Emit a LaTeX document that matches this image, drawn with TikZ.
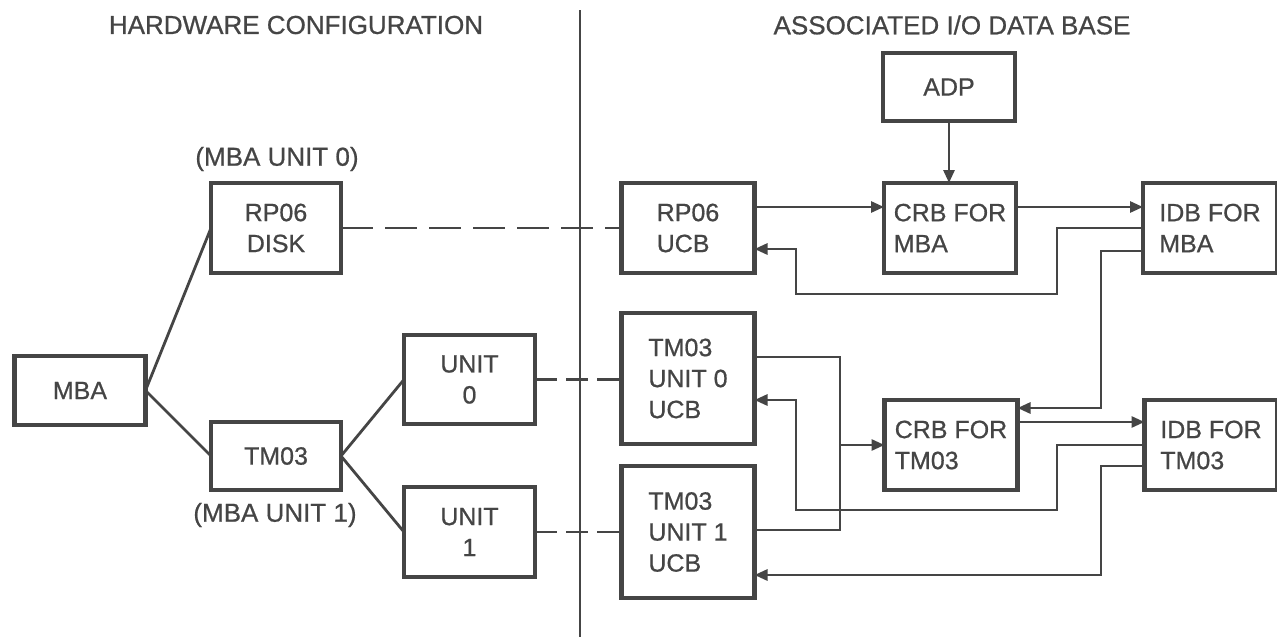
\documentclass[tikz,border=0pt]{standalone}
\usepackage{fontspec}
\setmainfont{Liberation Sans}
\newfontfamily\medfont{Liberation Sans}[FakeBold=0.7]
\usetikzlibrary{arrows.meta,calc}
\definecolor{ink}{gray}{0.27}
\newcommand\boxfnt{\medfont\fontsize{25}{31}\selectfont}
\newcommand\lblfnt{\medfont\fontsize{26}{31}\selectfont}
\begin{document}
\begin{tikzpicture}[x=1pt,y=-1pt,
  hbox/.style={draw=ink, line width=4.2pt, rectangle, inner sep=0pt, outer sep=0pt, text=ink, font=\boxfnt, align=center},
  lbox/.style={hbox, align=left},
  lbl/.style={text=ink, font=\lblfnt, inner sep=0pt},
  conn/.style={draw=ink, line width=2.8pt},
  arr/.style={conn, -{Triangle[length=13pt,width=11pt]}},
  dsh/.style={conn, dash pattern=on 32pt off 12pt},
  dshs/.style={conn, dash pattern=on 22pt off 9pt}]
\useasboundingbox (0,0) rectangle (1277,637);
\fill[white] (0,0) rectangle (1277,637);

% titles and labels
\node[lbl] (t1) at (296,25) {HARDWARE CONFIGURATION};
\node[lbl] (t2) at (952,25) {ASSOCIATED I/O DATA BASE};
\node[lbl] (l0) at (277,159) {(MBA UNIT 0)};
\node[lbl] (l1) at (275,515) {(MBA UNIT 1)};

% separator
\coordinate (stop) at (580,10);
\coordinate (sbot) at (580,637);
\draw[ink, line width=2.2pt] (stop) -- (sbot);

% hardware side
\node[hbox, minimum width=131pt, minimum height=69pt] (mba) at (80,390.5) {MBA};
\node[hbox, minimum width=130pt, minimum height=90pt] (disk) at (276,228) {RP06\\DISK};
\node[hbox, minimum width=130pt, minimum height=68pt] (tm) at (276,456) {TM03};
\node[hbox, minimum width=131pt, minimum height=89pt] (u0) at (469.5,379.5) {UNIT\\0};
\node[hbox, minimum width=131pt, minimum height=90pt] (u1) at (469.5,532) {UNIT\\1};

% data base side
\node[hbox, minimum width=132pt, minimum height=68pt] (adp) at (949,87) {ADP};
\node[lbox, minimum width=133pt, minimum height=90pt] (rucb) at (688,228) {RP06\\UCB};
\node[lbox, minimum width=132pt, minimum height=90pt] (crbm) at (950,228) {CRB FOR\\MBA};
\node[lbox, minimum width=134pt, minimum height=90pt] (idbm) at (1210,228) {IDB FOR\\MBA};
\node[lbox, minimum width=133pt, minimum height=131pt] (u0ucb) at (688,378.5) {TM03\\UNIT 0\\UCB};
\node[lbox, minimum width=133pt, minimum height=132pt] (u1ucb) at (688,532) {TM03\\UNIT 1\\UCB};
\node[lbox, minimum width=133pt, minimum height=90pt] (crbt) at (951,445) {CRB FOR\\TM03};
\node[lbox, minimum width=133pt, minimum height=90pt] (idbt) at (1211,445) {IDB FOR\\TM03};

% hardware tree
\draw[conn] (mba.east) -- (disk.west);
\draw[conn] (mba.east) -- (tm.west);
\draw[conn] (tm.east) -- (u0.west);
\draw[conn] (tm.east) -- (u1.west);

% dashed correspondences
\draw[dsh] (disk.east) -- (rucb.west);
\draw[dshs] (u0.east) -- (u0.east -| u0ucb.west);
\draw[dshs] (u1.east) -- (u1ucb.west);

% ADP to CRB
\draw[arr] (adp.south) -- (adp.south |- crbm.north);

% MBA chain
\draw[arr] ([yshift=21pt]rucb.east) -- ([yshift=21pt]crbm.west);
\draw[arr] ([yshift=21pt]crbm.east) -- ([yshift=21pt]idbm.west);
\draw[arr] (idbm.west) -- (1057,228) -- (1057,294) -- (796,294) -- (796,249) -- ([yshift=-21pt]rucb.east);
\draw[arr] ([yshift=-23pt]idbm.west) -- (1101,251) -- (1101,408) -- ([yshift=37pt]crbt.east);

% TM03 chain
\coordinate (j) at (840,445);
\draw[conn] ([yshift=21.5pt]u0ucb.east) -- (840,357) -- (840,530) -- ([yshift=2pt]u1ucb.east);
\draw[arr] (j) -- (crbt.west);
\draw[arr] ([yshift=23pt]crbt.east) -- ([yshift=23pt]idbt.west);
\draw[arr] (idbt.west) -- (1057,445) -- (1057,510) -- (796,510) -- (796,400) -- ([yshift=-21.5pt]u0ucb.east);
\draw[arr] ([yshift=-21pt]idbt.west) -- (1101,466) -- (1101,575) -- ([yshift=-43pt]u1ucb.east);
\end{tikzpicture}
\end{document}
